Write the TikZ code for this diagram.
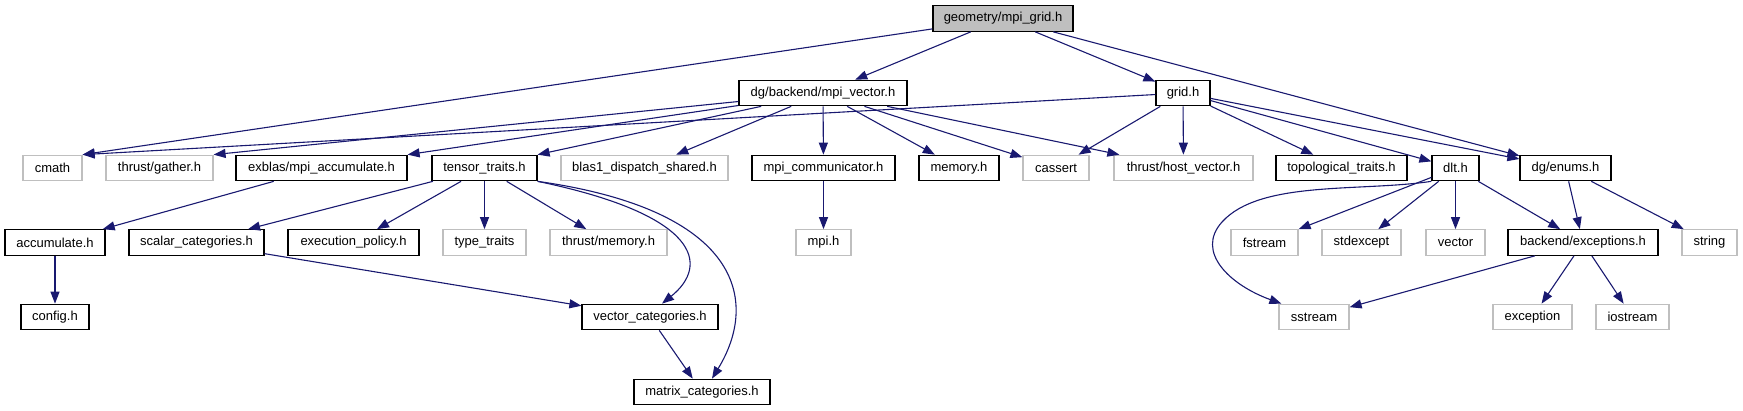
\documentclass[tikz,border=0pt]{standalone}
\usepackage{fontspec}
\setmainfont{Liberation Sans}
\usepackage{tikz}
\usetikzlibrary{arrows.meta,positioning}
\definecolor{depblue}{RGB}{25,25,112}
\definecolor{sysgray}{RGB}{191,191,191}

\begin{document}
\begin{tikzpicture}[x=1pt,y=-1pt,
  hdr/.style={draw=black,line width=1.2pt,minimum height=25.5pt,inner sep=1pt,font=\fontsize{13}{15}\selectfont},
  inc/.style={hdr},
  sys/.style={hdr,draw=sysgray},
  top/.style={hdr,fill=sysgray},
  dep/.style={draw=depblue,line width=1.1pt,-{Triangle[length=12pt,width=9pt]}}]
\useasboundingbox (0,0) rectangle (1743,411);
% row 0 / 1
\node[top, minimum width=140pt] (root) at (1003,18.5) {geometry/mpi\_grid.h};
\node[inc, minimum width=168pt] (mpivec) at (823,93) {dg/backend/mpi\_vector.h};
\node[inc, minimum width=54pt] (grid) at (1183,93) {grid.h};
% row 2
\node[sys, minimum width=59pt] (cmath) at (52.5,168) {cmath};
\node[sys, minimum width=107pt] (gather) at (159.5,168) {thrust/gather.h};
\node[inc, minimum width=171pt] (exblas) at (321.5,168) {exblas/mpi\_accumulate.h};
\node[inc, minimum width=105pt] (tensor) at (484.5,168) {tensor\_traits.h};
\node[sys, minimum width=167pt] (blas) at (644.5,168) {blas1\_dispatch\_shared.h};
\node[inc, minimum width=143pt] (mpicomm) at (823.5,168) {mpi\_communicator.h};
\node[inc, minimum width=80pt] (memory) at (959,168) {memory.h};
\node[sys, minimum width=66pt] (cassert) at (1056,168) {cassert};
\node[sys, minimum width=139pt] (hostvec) at (1183.5,168) {thrust/host\_vector.h};
\node[inc, minimum width=131pt] (topo) at (1341.5,168) {topological\_traits.h};
\node[inc, minimum width=47pt] (dlt) at (1455.5,168) {dlt.h};
\node[inc, minimum width=91pt] (enums) at (1565.5,168) {dg/enums.h};
% row 3
\node[inc, minimum width=100pt] (accum) at (55,242.5) {accumulate.h};
\node[inc, minimum width=135pt] (scalar) at (196.5,242.5) {scalar\_categories.h};
\node[inc, minimum width=131pt] (execpol) at (353.5,242.5) {execution\_policy.h};
\node[sys, minimum width=83pt] (typetr) at (484.5,242.5) {type\_traits};
\node[sys, minimum width=117pt] (thrmem) at (608.5,242.5) {thrust/memory.h};
\node[sys, minimum width=55pt] (mpih) at (823.5,242.5) {mpi.h};
\node[sys, minimum width=67pt] (fstream) at (1264.5,242.5) {fstream};
\node[sys, minimum width=79pt] (stdexc) at (1361.5,242.5) {stdexcept};
\node[sys, minimum width=59pt] (vector) at (1455.5,242.5) {vector};
\node[inc, minimum width=150pt] (except) at (1583,242.5) {backend/exceptions.h};
\node[sys, minimum width=55pt] (string) at (1709.5,242.5) {string};
% row 4 / 5
\node[inc, minimum width=68pt] (config) at (55,317) {config.h};
\node[inc, minimum width=136pt] (veccat) at (650,317) {vector\_categories.h};
\node[sys, minimum width=70pt] (sstream) at (1314,317) {sstream};
\node[sys, minimum width=79pt] (exception) at (1532.5,317) {exception};
\node[sys, minimum width=73pt] (iostream) at (1632.5,317) {iostream};
\node[inc, minimum width=136pt] (matcat) at (702,392) {matrix\_categories.h};
% includes of the root file
\draw[dep] (root) -- (cmath.north east);
\draw[dep] (root) -- (mpivec);
\draw[dep] (root) -- (grid);
\draw[dep] (root) -- (enums);
% mpi_vector.h
\draw[dep] (mpivec) -- (gather.north east);
\draw[dep] (mpivec) -- (exblas.north east);
\draw[dep] (mpivec) -- (tensor.north east);
\draw[dep] (mpivec) -- (blas);
\draw[dep] (mpivec) -- (mpicomm);
\draw[dep] (mpivec) -- (memory);
\draw[dep] (mpivec) -- (cassert);
\draw[dep] (mpivec) -- (hostvec);
% grid.h
\draw[dep] (grid) -- (cmath.north east);
\draw[dep] (grid) -- (cassert);
\draw[dep] (grid) -- (hostvec);
\draw[dep] (grid) -- (topo);
\draw[dep] (grid) -- (dlt);
\draw[dep] (grid) -- (enums);
% second level
\draw[dep] (exblas) -- (accum);
\draw[dep] (accum) -- (config);
\draw[dep] (tensor) -- (scalar);
\draw[dep] (tensor) -- (execpol);
\draw[dep] (tensor) -- (typetr);
\draw[dep] (tensor) -- (thrmem);
\draw[dep] (tensor.south east) .. controls (700,215) and (710,265) .. ([xshift=12pt]veccat.north);
\draw[dep] (tensor.south east) .. controls (740,210) and (760,300) .. ([xshift=10pt]matcat.north);
\draw[dep] (scalar) -- (veccat);
\draw[dep] (veccat) -- (matcat);
\draw[dep] (mpicomm) -- (mpih);
% dlt.h and enums.h
\draw[dep] (dlt.south west) .. controls (1360,192) and (1260,180) .. (1222,222)
  .. controls (1195,252) and (1230,285) .. ([xshift=3pt]sstream.north west);
\draw[dep] (dlt) -- (fstream);
\draw[dep] (dlt) -- (stdexc);
\draw[dep] (dlt) -- (vector);
\draw[dep] (dlt) -- (except);
\draw[dep] (enums) -- (except);
\draw[dep] (enums) -- (string);
\draw[dep] (except) -- (sstream);
\draw[dep] (except) -- (exception);
\draw[dep] (except) -- (iostream);
\end{tikzpicture}
\end{document}
